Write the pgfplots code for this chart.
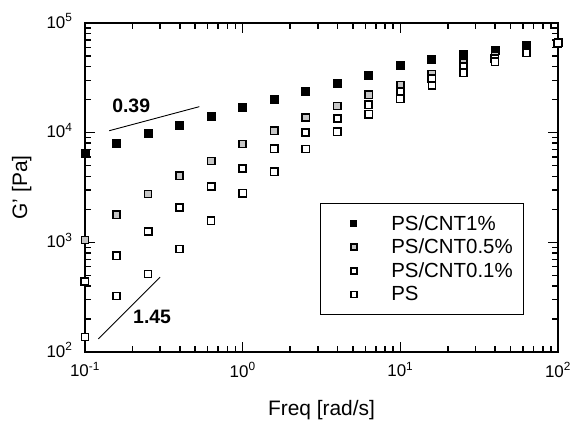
\documentclass[border=0pt]{standalone}
\usepackage{fontspec}
\setmainfont{Liberation Sans}
\usepackage{pgfplots}
\pgfplotsset{compat=1.18}

\begin{document}
\begin{tikzpicture}
\begin{axis}[
    xmode=log, ymode=log,
    scale only axis, width=473bp, height=329bp,
    xmin=0.1, xmax=100, ymin=100, ymax=100000,
    clip=false,
    axis line style={line width=2.4bp},
    tick align=inside,
    major tick length=10bp, minor tick length=6.5bp,
    every tick/.style={black, line width=1.6bp},
    xtick={0.1,1,10,100},
    xticklabels={10\textsuperscript{-1},10\textsuperscript{0},10\textsuperscript{1},10\textsuperscript{2}},
    minor xtick={0.2,0.3,0.4,0.5,0.6,0.7,0.8,0.9,2,3,4,5,6,7,8,9,20,30,40,50,60,70,80,90},
    ytick={100,1000,10000,100000},
    yticklabels={10\textsuperscript{2},10\textsuperscript{3},10\textsuperscript{4},10\textsuperscript{5}},
    minor ytick={200,300,400,500,600,700,800,900,2000,3000,4000,5000,6000,7000,8000,9000,20000,30000,40000,50000,60000,70000,80000,90000},
    tick label style={font=\fontsize{17}{20}\selectfont},
    xticklabel style={yshift=-7bp},
    yticklabel style={xshift=-9bp, yshift=2bp},
    xlabel={Freq [rad/s]},
    ylabel={G' [Pa]},
    label style={font=\fontsize{21}{25}\selectfont},
    xlabel style={at={(axis description cs:0.5,-0.1915)}, anchor=base},
    ylabel style={at={(axis description cs:-0.1226,0.5)}, anchor=base},
    legend style={at={(rel axis cs:0.497,0.453)}, anchor=north west,
        draw=black, line width=0.8bp, inner xsep=9bp, inner ysep=10bp,
        font=\fontsize{20.5}{24}\selectfont, row sep=3.5bp, column sep=9bp,
        cells={anchor=west}},
    legend image code/.code={\path (0bp,0bp) (50bp,0bp); \draw[#1, mark size=3bp] plot coordinates {(24bp,0bp)};},
]
\coordinate (ll) at (rel axis cs:0,0);
\coordinate (ur) at (rel axis cs:1,1);

\addplot[only marks, mark=square*, mark size=4bp, mark options={fill=black, draw=black, line width=0.8bp}]
coordinates {(0.1,6500) (0.1585,8050) (0.2512,9930) (0.3981,11750) (0.631,14200) (1,17000) (1.585,20100) (2.512,24000)
(3.981,28200) (6.31,33300) (10,41100) (15.85,46700) (25.12,52100) (39.81,56800) (63.1,63000) (100,67000)};
\addlegendentry{PS/CNT1\%}

\addplot[only marks, mark=square*, mark size=3.6bp, mark options={fill=gray!45, draw=black, line width=1.6bp}]
coordinates {(0.1,1050) (0.1585,1780) (0.2512,2760) (0.3981,4050) (0.631,5520) (1,7890) (1.585,10400) (2.512,13800)
(3.981,17500) (6.31,22100) (10,27200) (15.85,34300) (25.12,43000) (39.81,50000) (63.1,57800) (100,66000)};
\addlegendentry{PS/CNT0.5\%}

\addplot[only marks, mark=square*, mark size=3.6bp, mark options={fill=white, draw=black, line width=1.8bp}]
coordinates {(0.1,438) (0.1585,752) (0.2512,1250) (0.3981,2090) (0.631,3220) (1,4730) (1.585,7100) (2.512,10000)
(3.981,13500) (6.31,17900) (10,23700) (15.85,30900) (25.12,39800) (39.81,47600) (63.1,55700) (100,65500)};
\addlegendentry{PS/CNT0.1\%}

\addplot[only marks, mark=square*, mark size=3.6bp, mark options={fill=white, draw=black, line width=1.5bp}]
coordinates {(0.1,137) (0.1585,325) (0.2512,515) (0.3981,870) (0.631,1570) (1,2800) (1.585,4410) (2.512,7100)
(3.981,10200) (6.31,14700) (10,20300) (15.85,27000) (25.12,35200) (39.81,44400) (63.1,53600) (100,65300)};
\addlegendentry{PS}

% slope guides
\addplot[black, line width=0.9bp, forget plot] coordinates {(0.1426,10420) (0.531,17260)};
\addplot[black, line width=0.9bp, forget plot] coordinates {(0.1214,131.6) (0.2995,481)};
\node[font=\bfseries\fontsize{19.5}{22}\selectfont] at (axis cs:0.1963,17400) {0.39};
\node[font=\bfseries\fontsize{19.5}{22}\selectfont] at (axis cs:0.2666,210) {1.45};
\end{axis}
\pgfresetboundingbox
\path ([shift={(-85bp,-69bp)}]ll) rectangle ([shift={(18bp,23bp)}]ur);
\end{tikzpicture}
\end{document}
